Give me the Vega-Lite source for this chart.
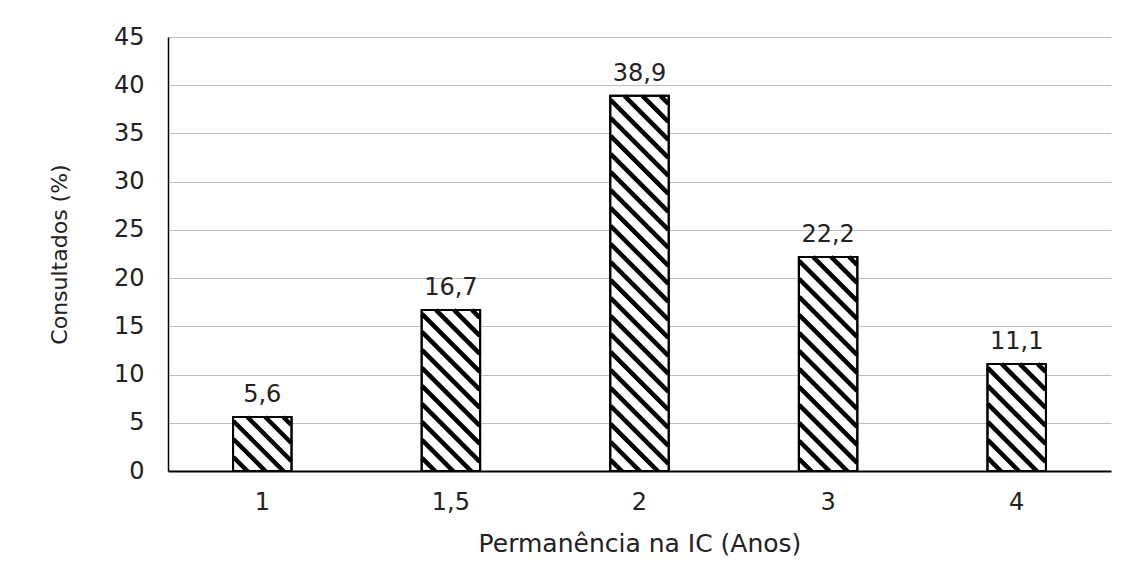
{
  "$schema": "https://vega.github.io/schema/vega-lite/v6.json",
  "width": 943,
  "height": 434,
  "autosize": {"type": "none"},
  "padding": {"left": 168, "top": 37, "right": 24, "bottom": 102},
  "background": "white",
  "config": {
    "locale": {"number": {"decimal": ",", "thousands": ".", "grouping": [3], "currency": ["R$", ""]}},
    "view": {"stroke": null},
    "font": "DejaVu Sans"
  },
  "data": {
    "values": [
      {"anos": "1", "consultados": 5.6},
      {"anos": "1,5", "consultados": 16.7},
      {"anos": "2", "consultados": 38.9},
      {"anos": "3", "consultados": 22.2},
      {"anos": "4", "consultados": 11.1}
    ]
  },
  "encoding": {
    "x": {
      "field": "anos",
      "type": "nominal",
      "sort": null,
      "scale": {"paddingInner": 0.69, "paddingOuter": 0.345},
      "axis": {
        "title": "Permanência na IC (Anos)",
        "labelAngle": 0,
        "ticks": false,
        "labelPadding": 19,
        "labelFontSize": 24,
        "labelFont": "DejaVu Sans",
        "labelColor": "#222222",
        "domainColor": "#000000",
        "domainWidth": 2,
        "titleFont": "DejaVu Sans",
        "titleFontSize": 25,
        "titleFontWeight": "normal",
        "titleColor": "#222222",
        "titleBaseline": "alphabetic",
        "titleY": 80
      }
    },
    "y": {
      "field": "consultados",
      "type": "quantitative",
      "scale": {"domain": [0, 45], "nice": false},
      "axis": {
        "title": "Consultados (%)",
        "values": [0, 5, 10, 15, 20, 25, 30, 35, 40, 45],
        "ticks": false,
        "labelPadding": 24,
        "labelFontSize": 24,
        "labelFont": "DejaVu Sans",
        "labelColor": "#222222",
        "domainColor": "#000000",
        "domainWidth": 1.5,
        "gridColor": "#bdbdbd",
        "gridWidth": 1,
        "titleFont": "DejaVu Sans",
        "titleFontSize": 22,
        "titleFontWeight": "normal",
        "titleColor": "#222222",
        "titleBaseline": "alphabetic",
        "titleX": -102
      }
    }
  },
  "layer": [
    {"mark": {"type": "bar", "fill": "white", "stroke": "black", "strokeWidth": 2}},
    {
      "mark": {
        "type": "point",
        "shape": "M21,0L29,8M3,0L29,26M-15,0L29,44M-29,4L29,62M-29,22L29,80M-29,40L29,98M-29,58L29,116M-29,76L29,134M-29,94L29,152M-29,112L29,170M-29,130L29,188M-29,148L29,206M-29,166L29,224M-29,184L29,242M-29,202L29,260M-29,220L29,278M-29,238L29,296M-29,256L29,314M-29,274L29,332M-29,292L29,350M-29,310L29,368M-29,328L29,386M-29,346L29,404M-29,364L29,422M-29,382L29,440",
        "size": 4,
        "filled": false,
        "color": "black",
        "stroke": "black",
        "strokeWidth": 4.5,
        "opacity": 1,
        "clip": true
      }
    },
    {"mark": {"type": "bar", "fillOpacity": 0, "stroke": "black", "strokeWidth": 2}},
    {
      "mark": {"type": "text", "baseline": "alphabetic", "dy": -15, "fontSize": 24, "font": "DejaVu Sans", "color": "#222222"},
      "encoding": {"text": {"field": "consultados", "type": "quantitative", "format": ".1f"}}
    }
  ]
}
